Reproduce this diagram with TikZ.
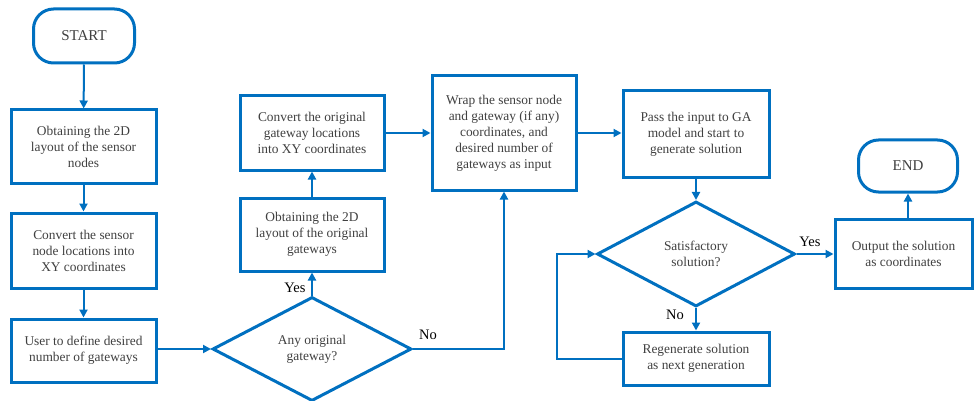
\documentclass[tikz,border=0pt]{standalone}
\usepackage{fontspec}
\setmainfont{Liberation Serif}
\usetikzlibrary{shapes.geometric,arrows.meta}
\definecolor{fb}{RGB}{0,112,192}
\definecolor{tx}{RGB}{64,64,64}
\begin{document}
\begin{tikzpicture}[x=1pt,y=-1pt,
 box/.style={draw=fb,line width=3pt,fill=white,text=tx,align=center,inner sep=0pt,font=\fontsize{13.4}{16}\selectfont},
 term/.style={box,rounded corners=20pt,font=\fontsize{15}{17}\selectfont},
 dec/.style={box,diamond},
 conn/.style={draw=fb,line width=2pt,-{Triangle[length=8pt,width=8pt]}},
 lab/.style={font=\fontsize{14.5}{16}\selectfont,text=black}]
\useasboundingbox (0,0) rectangle (974,401);
\clip (0,0) rectangle (974,401);
\node[term,minimum width=101pt,minimum height=54pt] (start) at (84,36) {START};
\node[box,minimum width=145pt,minimum height=73pt] (b1) at (83.5,146.5) {Obtaining the 2D\\layout of the sensor\\nodes};
\node[box,minimum width=145pt,minimum height=75pt] (b2) at (83.5,250.5) {Convert the sensor\\node locations into\\XY coordinates};
\node[box,minimum width=145pt,minimum height=63pt] (b3) at (83.5,350.5) {User to define desired\\number of gateways};
\node[dec,minimum width=199pt,minimum height=104pt] (d1) at (312,349) {Any original\\gateway?};
\node[box,minimum width=144pt,minimum height=73pt] (g1) at (312,234.5) {Obtaining the 2D\\layout of the original\\gateways};
\node[box,minimum width=144pt,minimum height=74pt] (g2) at (312,133) {Convert the original\\gateway locations\\into XY coordinates};
\node[box,minimum width=144pt,minimum height=114pt] (w) at (504,133) {Wrap the sensor node\\and gateway (if any)\\coordinates, and\\desired number of\\gateways as input};
\node[box,minimum width=146pt,minimum height=86pt] (ga) at (696,134) {Pass the input to GA\\model and start to\\generate solution};
\node[dec,minimum width=198pt,minimum height=105pt] (d2) at (696,254) {Satisfactory\\solution?};
\node[box,minimum width=146pt,minimum height=53pt] (rg) at (696,358.5) {Regenerate solution\\as next generation};
\node[box,minimum width=137pt,minimum height=69pt] (out) at (903.5,253.5) {Output the solution\\as coordinates};
\node[term,minimum width=99pt,minimum height=52pt] (end) at (908,166) {END};
\draw[conn] (start) -- (b1);
\draw[conn] (b1) -- (b2);
\draw[conn] (b2) -- (b3);
\draw[conn] (b3.east |- d1.west) -- (d1.west);
\draw[conn] (d1.north) -- (g1);
\draw[conn] (g1) -- (g2);
\draw[conn] (g2.east) -- (g2.east -| w.west);
\draw[conn] (d1.east) -| (w.south);
\draw[conn] (w.east) -- (w.east -| ga.west);
\draw[conn] (ga) -- (d2);
\draw[conn] (d2) -- (rg);
\draw[conn] (rg.west) -- ++(-65,0) |- (d2.west);
\draw[conn] (d2.east) -- (out.west |- d2.east);
\draw[conn] (end.south |- out.north) -- (end.south);
\node[lab] (y1) at (295,288) {Yes};
\node[lab] (n1) at (428,335) {No};
\node[lab] (n2) at (675,315) {No};
\node[lab] (y2) at (810,242) {Yes};
\end{tikzpicture}
\end{document}
